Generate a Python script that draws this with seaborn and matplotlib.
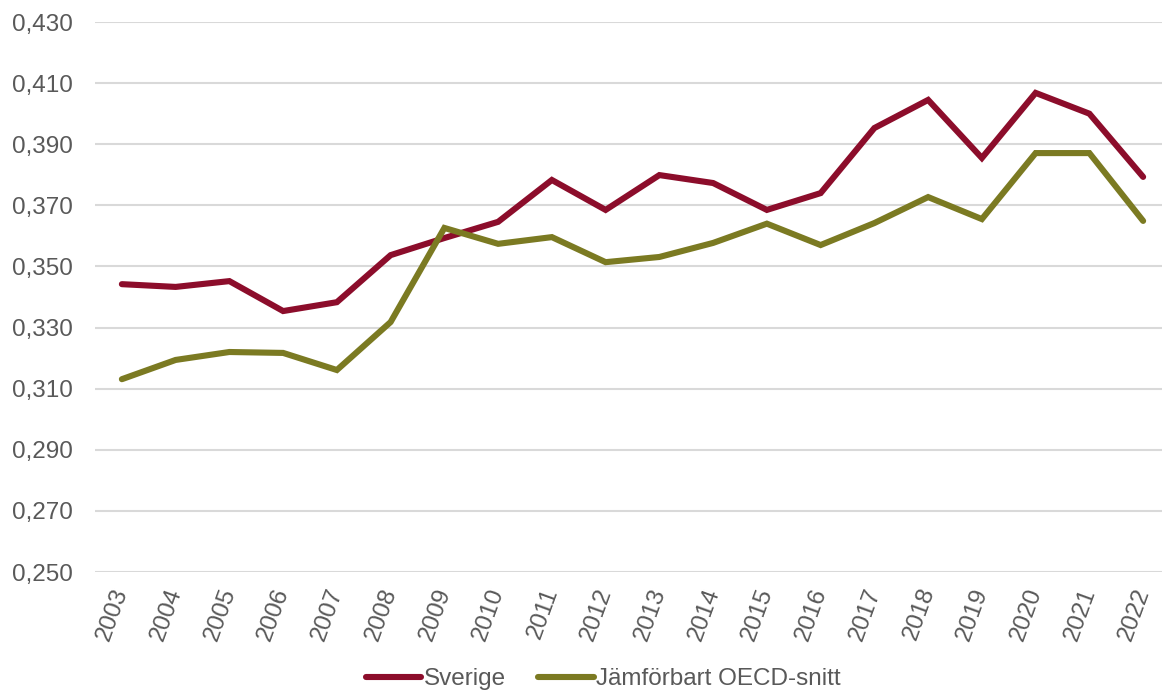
import pandas as pd
import numpy as np
import seaborn as sns
import matplotlib.pyplot as plt

years = list(range(2003, 2023))
sverige = [0.3442, 0.3433, 0.3452, 0.3354, 0.3383, 0.3537, 0.3593, 0.3646,
           0.3783, 0.3685, 0.3799, 0.3773, 0.3685, 0.3740, 0.3953, 0.4045,
           0.3855, 0.4068, 0.4000, 0.3793]
oecd = [0.3131, 0.3194, 0.3220, 0.3217, 0.3161, 0.3318, 0.3626, 0.3574,
        0.3596, 0.3514, 0.3531, 0.3577, 0.3640, 0.3570, 0.3642, 0.3727,
        0.3655, 0.3871, 0.3871, 0.3649]
series_names = ["Sverige", "Jämförbart OECD-snitt"]
y_ticks = [0.25, 0.27, 0.29, 0.31, 0.33, 0.35, 0.37, 0.39, 0.41, 0.43]

df = pd.DataFrame({
    "year": years * 2,
    "value": sverige + oecd,
    "serie": [series_names[0]] * len(years) + [series_names[1]] * len(years),
})

sns.set_theme(style="white")
plt.rcParams['font.family'] = ['Liberation Sans', 'DejaVu Sans']
text_col = "#595959"
colors = ["#8C0D2B", "#7B7A22"]

fig = plt.figure(figsize=(11.62, 6.96), dpi=100)
ax = fig.add_axes([95 / 1162, 1 - 572 / 696, (1170 - 95) / 1162, 550 / 696])

sns.lineplot(data=df, x="year", y="value", hue="serie", ax=ax,
             palette=colors, linewidth=4.4, legend=False,
             solid_capstyle="round", solid_joinstyle="miter")

ax.set_ylim(0.25, 0.43)
ax.set_xlim(years[0] - 0.5, years[-1] + 0.5)
ax.set_yticks(y_ticks)
ax.set_yticklabels([f"{v:.3f}".replace(".", ",") for v in y_ticks])
ax.set_xticks(years)
ax.set_xticklabels([str(y) for y in years], rotation=70, ha="right",
                   va="center", rotation_mode="anchor")
ax.tick_params(axis="both", length=0, labelsize=17.5, labelcolor=text_col)
ax.tick_params(axis="y", pad=16)
ax.tick_params(axis="x", pad=12)
ax.yaxis.grid(True, color="#D9D9D9", linewidth=1.5)
ax.set_axisbelow(True)
for s in ax.spines.values():
    s.set_visible(False)
ax.set_xlabel("")
ax.set_ylabel("")

handles = [plt.Line2D([], [], color=c, linewidth=4.4, solid_capstyle="round")
           for c in colors]
leg = fig.legend(handles, series_names, loc="center", ncol=2, frameon=False,
                 bbox_to_anchor=(0.519, 0.024), fontsize=17.5,
                 handlelength=2.3, handletextpad=0.1, columnspacing=1.3)
for t in leg.get_texts():
    t.set_color(text_col)

fig.savefig("out.png", dpi=100)
